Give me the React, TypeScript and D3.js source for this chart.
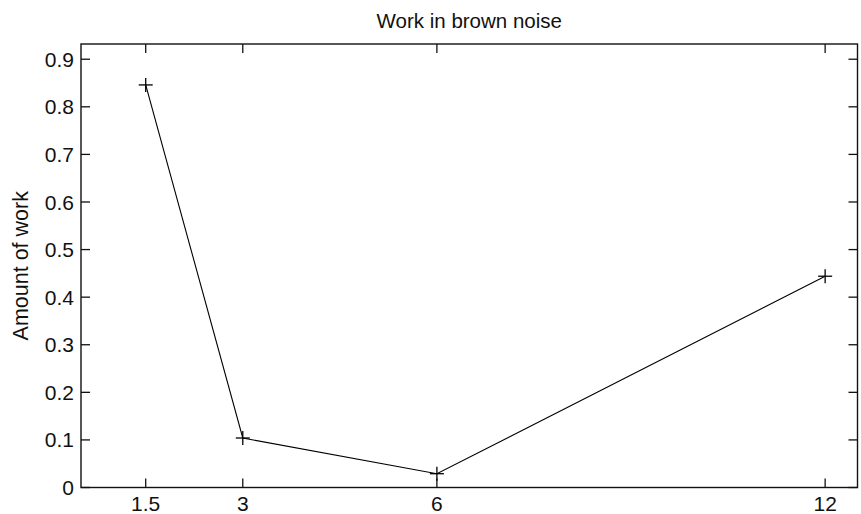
import React from "react";
import * as d3 from "d3";

const title = "Work in brown noise";
const yLabel = "Amount of work";
const xValues = [1.5, 3, 6, 12];
const yValues = [0.846, 0.104, 0.029, 0.444];
const xTicks = [1.5, 3, 6, 12];
const yTicks = [0, 0.1, 0.2, 0.3, 0.4, 0.5, 0.6, 0.7, 0.8, 0.9];
const xDomain = [0.5, 12.5];
const yDomain = [0, 0.932];

const W = 861;
const H = 514;
const L = 81;
const R = 857.5;
const T = 44;
const B = 487.5;
const TICK = 9;
const FONT = "'Liberation Sans', Arial, Helvetica, sans-serif";

export default function App() {
  const x = d3.scaleLinear().domain(xDomain).range([L, R]);
  const y = d3.scaleLinear().domain(yDomain).range([B, T]);
  const line = d3
    .line<number>()
    .x((_, i) => x(xValues[i]))
    .y((d) => y(d));
  const ms = 7;
  return (
    <svg
      width={W}
      height={H}
      style={{ position: "absolute", left: 0, top: 0, background: "#fff" }}
      fontFamily={FONT}
    >
      <rect x={0} y={0} width={W} height={H} fill="#fff" />
      {/* axes box */}
      <rect x={L} y={T} width={R - L} height={B - T} fill="none" stroke="#111" strokeWidth={1.4} />
      {/* x ticks */}
      {xTicks.map((t) => (
        <g key={"x" + t}>
          <line x1={x(t)} x2={x(t)} y1={B} y2={B - TICK} stroke="#111" strokeWidth={1.3} />
          <line x1={x(t)} x2={x(t)} y1={T} y2={T + TICK} stroke="#111" strokeWidth={1.3} />
          <text x={x(t)} y={B + 23} textAnchor="middle" fontSize={21} fill="#111">
            {String(t)}
          </text>
        </g>
      ))}
      {/* y ticks */}
      {yTicks.map((t) => (
        <g key={"y" + t}>
          <line x1={L} x2={L + TICK} y1={y(t)} y2={y(t)} stroke="#111" strokeWidth={1.3} />
          <line x1={R} x2={R - TICK} y1={y(t)} y2={y(t)} stroke="#111" strokeWidth={1.3} />
          <text x={L - 7} y={y(t)} dy="0.36em" textAnchor="end" fontSize={21} fill="#111">
            {d3.format("")(t)}
          </text>
        </g>
      ))}
      {/* data line */}
      <path d={line(yValues) || ""} fill="none" stroke="#000" strokeWidth={1.1} />
      {yValues.map((v, i) => (
        <g key={"m" + i} stroke="#000" strokeWidth={1.3}>
          <line x1={x(xValues[i]) - ms} x2={x(xValues[i]) + ms} y1={y(v)} y2={y(v)} />
          <line x1={x(xValues[i])} x2={x(xValues[i])} y1={y(v) - ms} y2={y(v) + ms} />
        </g>
      ))}
      {/* title */}
      <text x={(L + R) / 2} y={28} textAnchor="middle" fontSize={20.5} fill="#111">
        {title}
      </text>
      {/* y label */}
      <text
        transform={`translate(28, ${(T + B) / 2}) rotate(-90)`}
        textAnchor="middle"
        fontSize={21.5}
        fill="#111"
      >
        {yLabel}
      </text>
    </svg>
  );
}
